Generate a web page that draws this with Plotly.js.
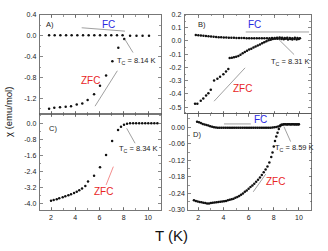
<!DOCTYPE html>
<html><head><meta charset="utf-8">
<script src="https://cdn.plot.ly/plotly-3.0.1.min.js"></script>
<style>html,body{margin:0;padding:0;background:#fff}#c{width:328px;height:251px}</style>
</head><body><div id="c"></div>
<script>
// ---- Panel A ----
const A_fc_T = [1.84,2.30,2.77,3.24,3.70,4.17,4.64,5.10,5.57,6.04,6.50,6.97,7.44,7.90,8.52,9.05,9.55,10.08];
const A_fc   = [0.01,0.01,0.01,0.01,0.01,0.01,0.01,0.01,0.01,0.01,0.01,0.01,0.01,0.01,0.00,0.00,0.00,0.00];
const A_zfc_T = [1.84,2.27,2.74,3.21,3.65,4.12,4.58,5.02,5.55,6.04,6.54,7.06,7.55,8.04];
const A_zfc   = [-1.40,-1.38,-1.37,-1.36,-1.35,-1.32,-1.30,-1.23,-1.12,-0.96,-0.76,-0.49,-0.23,-0.06];
// ---- Panel B ----
const B_fc_T = [1.8,2.0,2.2,2.4,2.6,2.8,3.0,3.2,3.4,3.6,3.8,4.0,4.2,4.4,4.6,4.8,5.0,5.2,5.4,5.6,5.8,6.0,6.2,6.4,6.6,6.8,7.0,7.2,7.4,7.6,7.8,8.0,8.2,8.4,8.6,8.8,9.0,9.2,9.4,9.6,9.8,10.0];
const B_fc   = [0.045,0.043,0.041,0.039,0.037,0.035,0.033,0.031,0.030,0.029,0.028,0.027,0.026,0.025,0.024,0.024,0.023,0.023,0.022,0.022,0.021,0.021,0.021,0.020,0.020,0.020,0.020,0.020,0.020,0.021,0.022,0.023,0.024,0.026,0.024,0.022,0.025,0.023,0.021,0.024,0.022,0.020];
const B_zfc_T = [1.74,1.92,2.19,2.39,2.61,2.79,2.98,3.24,3.50,3.71,3.97,4.18,4.36,
  4.47,4.64,4.81,4.98,5.15,5.32,5.49,5.66,5.83,6.00,6.17,6.34,6.51,6.68,6.85,7.02,7.19,7.36,7.53,7.70,7.87,8.04,8.21,8.38,8.55,8.72,8.89,9.06,9.23,9.40,9.57,9.74,9.91];
const B_zfc   = [-0.474,-0.474,-0.452,-0.434,-0.412,-0.395,-0.369,-0.299,-0.286,-0.271,-0.251,-0.231,-0.211,
  -0.128,-0.126,-0.123,-0.119,-0.113,-0.104,-0.093,-0.083,-0.073,-0.065,-0.058,-0.050,-0.042,-0.034,-0.026,-0.018,-0.010,-0.002,0.005,0.010,0.014,0.016,0.017,0.016,0.015,0.013,0.016,0.012,0.015,0.011,0.014,0.012,0.014];
// ---- Panel C ----
const C_T = [2.00,2.22,2.47,2.68,2.96,3.18,3.43,3.65,3.90,4.12,4.33,4.56,4.83,5.05,5.55,6.04,6.54,7.04,7.53,7.77,8.02,8.27,8.52,8.77,9.02,9.27,9.52,9.77,10.02,10.27,10.52,10.77];
const C_zfc = [-3.84,-3.80,-3.77,-3.72,-3.67,-3.62,-3.57,-3.52,-3.46,-3.39,-3.32,-3.24,-3.11,-2.89,-2.60,-2.18,-1.57,-0.88,-0.33,-0.17,-0.07,-0.02,0,0,0,0,0,0,0,0,0,0];
// ---- Panel D ----
const D_zfc_T = [1.65,1.80,1.95,2.10,2.25,2.40,2.55,2.70,2.85,3.00,3.15,3.30,3.45,3.60,3.75,3.90,4.05,4.20,4.35,4.50,4.65,4.80,4.95,5.10,5.25,5.40,5.55,5.70,5.85,6.00,6.15,6.30,6.45,6.60,6.75,6.90,7.05,7.20,7.35,7.50,7.65,7.80,7.90,8.00,8.10,8.20,8.30,8.40,8.50,8.60,8.75,8.90,9.05,9.20,9.35,9.50,9.65,9.80,9.95];
const D_zfc   = [-0.265,-0.267,-0.269,-0.271,-0.272,-0.274,-0.275,-0.276,-0.276,-0.275,-0.274,-0.273,-0.272,-0.271,-0.270,-0.269,-0.268,-0.267,-0.265,-0.263,-0.261,-0.259,-0.256,-0.253,-0.249,-0.245,-0.240,-0.234,-0.229,-0.223,-0.217,-0.211,-0.205,-0.198,-0.190,-0.182,-0.173,-0.163,-0.153,-0.142,-0.128,-0.108,-0.092,-0.070,-0.050,-0.034,-0.020,-0.006,0.004,0.009,0.010,0.011,0.010,0.011,0.010,0.011,0.010,0.010,0.010];
const D_fc_T = [1.90,2.05,2.20,2.35,2.50,2.65,2.80,2.95,3.10,3.25,3.40,3.55,3.70,3.85,4.00,4.15,4.30,4.45,4.60,4.75,4.90,5.05,5.20,5.35,5.50,5.65,5.80,5.95,6.10,6.25,6.40,6.55,6.70,6.85,7.00,7.15,7.30,7.45,7.60,7.75,7.90,8.05,8.20,8.35,8.50,8.65,8.80,8.95,9.10,9.25,9.40,9.55,9.70,9.85,10.00];
const D_fc   = [0.020,0.018,0.015,0.012,0.010,0.008,0.006,0.004,0.002,0.000,-0.001,-0.002,-0.002,-0.002,-0.002,-0.002,-0.002,-0.002,-0.002,-0.002,-0.002,-0.002,-0.002,-0.002,-0.002,-0.002,-0.002,-0.002,-0.002,-0.002,-0.002,-0.002,-0.002,-0.002,-0.002,-0.002,-0.002,-0.002,-0.002,-0.002,-0.001,0.000,0.001,0.003,0.006,0.009,0.011,0.011,0.011,0.011,0.011,0.011,0.011,0.011,0.011];
// ---- tick labels ----
const A_yt = [0.4,0.0,-0.4,-0.8,-1.2];       const A_ytl = ["0.4","0.0","-0.4","-0.8","-1.2"];
const B_yt = [0.2,0.1,0.0,-0.1,-0.2,-0.3,-0.4,-0.5]; const B_ytl = ["0.2","0.1","0.0","-0.1","-0.2","-0.3","-0.4","-0.5"];
const C_yt = [0.0,-0.8,-1.6,-2.4,-3.2,-4.0]; const C_ytl = ["0.0","-0.8","-1.6","-2.4","-3.2","-4.0"];
const D_yt = [0.00,-0.06,-0.12,-0.18,-0.24,-0.30]; const D_ytl = ["0.00","-0.06","-0.12","-0.18","-0.24","-0.30"];
const X_t = [2,4,6,8,10]; const X_tl = ["2","4","6","8","10"];

const W=328,H=251;
const px = v=>v/W, py = v=>1-v/H;
const mk = {color:'#111', size:2.5, symbol:'circle'};
function sc(x,y,xa,ya){return {x:x,y:y,xaxis:xa,yaxis:ya,mode:'markers',marker:mk,type:'scatter',hoverinfo:'skip',showlegend:false};}
const data = [
  sc(A_fc_T,A_fc,'x','y'), sc(A_zfc_T,A_zfc,'x','y'),
  sc(B_fc_T,B_fc,'x2','y2'), sc(B_zfc_T,B_zfc,'x2','y2'),
  sc(C_T,C_zfc,'x3','y3'),
  sc(D_fc_T,D_fc,'x4','y4'), sc(D_zfc_T,D_zfc,'x4','y4')
];
const tf = {family:'Liberation Sans, Arial, sans-serif', size:7, color:'#222'};
const mn = (o)=>Object.assign({ticks:'inside',ticklen:1.8,tickwidth:0.6,tickcolor:'#555'},o);
function ax(o){return Object.assign({showline:true,mirror:'ticks',linecolor:'#555',linewidth:0.8,ticks:'inside',ticklen:3,tickwidth:0.7,tickcolor:'#555',
  showgrid:false,zeroline:false,tickfont:tf,fixedrange:true,ticklabelstandoff:1},o);}
const layout = {
  width:W,height:H,margin:{l:0,r:0,t:0,b:0},paper_bgcolor:'#fff',plot_bgcolor:'#fff',
  font:{family:'Liberation Sans, Arial, sans-serif',color:'#222'},
  xaxis: ax({domain:[px(39.5),px(161)],range:[1.05,11.07],anchor:'y',tickvals:X_t,ticktext:X_tl,showticklabels:false,minor:mn({dtick:1})}),
  yaxis: ax({domain:[py(114),py(15)],range:[-1.5,0.4],anchor:'x',tickvals:A_yt,ticktext:A_ytl,minor:mn({tickvals:[0.2,-0.2,-0.6,-1.0,-1.4]})}),
  xaxis2: ax({domain:[px(184.5),px(311)],range:[0.91,10.87],anchor:'y2',tickvals:X_t,ticktext:X_tl,showticklabels:false,minor:mn({dtick:1})}),
  yaxis2: ax({domain:[py(113.5),py(14.5)],range:[-0.548,0.2],anchor:'x2',tickvals:B_yt,ticktext:B_ytl,minor:mn({tickvals:[0.15,0.05,-0.05,-0.15,-0.25,-0.35,-0.45]})}),
  xaxis3: ax({domain:[px(39.5),px(161)],range:[1.05,11.07],anchor:'y3',tickvals:X_t,ticktext:X_tl,minor:mn({dtick:1})}),
  yaxis3: ax({domain:[py(210),py(114)],range:[-4.3,0.46],anchor:'x3',tickvals:C_yt,ticktext:C_ytl,minor:mn({tickvals:[0.4,-0.4,-1.2,-2.0,-2.8,-3.6]})}),
  xaxis4: ax({domain:[px(188),px(311.5)],range:[1.18,11.0],anchor:'y4',tickvals:X_t,ticktext:X_tl,minor:mn({dtick:1})}),
  yaxis4: ax({domain:[py(210),py(114)],range:[-0.30,0.048],anchor:'x4',tickvals:D_yt,ticktext:D_ytl,minor:mn({tickvals:[0.03,-0.03,-0.09,-0.15,-0.21,-0.27]})}),
  annotations: [], shapes: []
};
const lbl = {family:'Liberation Sans, Arial, sans-serif', size:7.5, color:'#222'};
const big = (c)=>({family:'Liberation Sans, Arial, sans-serif', size:10, color:c});
function t(xr,yr,x,y,txt,f){return {xref:xr,yref:yr,x:x,y:y,text:txt,showarrow:false,font:f,xanchor:'center',yanchor:'middle'};}
function ln(xr,yr,x0,y0,x1,y1,col){return {type:'line',xref:xr,yref:yr,x0:x0,y0:y0,x1:x1,y1:y1,line:{color:col||'#888',width:0.8}};}
const tc = (v)=>'T<sub>C</sub> = '+v+' K';
layout.annotations.push(
  t('x','y',1.92,0.21,'A)',lbl), t('x','y',6.78,0.22,'FC',big('#2a2adf')),
  t('x','y',9.05,-0.49,tc('8.14'),lbl),
  t('x','y',5.22,-0.85,'ZFC',big('#e8261f')),
  t('x2','y2',2.27,0.123,'B)',lbl), t('x2','y2',6.39,0.123,'FC',big('#2a2adf')),
  t('x2','y2',9.26,-0.161,tc('8.31'),lbl),
  t('x2','y2',5.46,-0.361,'ZFC',big('#e8261f')),
  t('x3','y3',2.19,-0.25,'C)',lbl),
  t('x3','y3',9.22,-1.29,tc('8.34'),lbl),
  t('x3','y3',6.31,-3.39,'ZFC',big('#e8261f')),
  t('x4','y4',1.92,-0.028,'D)',lbl), t('x4','y4',6.96,0.029,'FC',big('#2a2adf')),
  t('x4','y4',9.65,-0.076,tc('8.59'),lbl),
  t('x4','y4',8.15,-0.197,'ZFC',big('#e8261f')),
  {xref:'paper',yref:'paper',x:px(171),y:py(235),text:'T (K)',showarrow:false,font:{family:'Liberation Sans, Arial, sans-serif',size:15,color:'#111'},xanchor:'center',yanchor:'middle'},
  {xref:'paper',yref:'paper',x:px(8),y:py(112),text:'χ (emu/mol)',textangle:-90,showarrow:false,font:{family:'Liberation Sans, Arial, sans-serif',size:9.5,color:'#111'},xanchor:'center',yanchor:'middle'}
);
layout.shapes.push(
  ln('x','y',4.53,0.155,8.1,0.09), ln('x','y',8.1,-0.07,8.76,-0.32), ln('x','y',7.47,-0.67,5.63,-1.35),
  ln('x2','y2',5.73,0.068,10.72,0.068), ln('x2','y2',8.35,0.01,9.54,-0.103), ln('x2','y2',5.68,-0.203,3.24,-0.455),
  ln('x3','y3',8.24,-0.25,8.93,-0.99), ln('x3','y3',7.14,-2.15,6.54,-3.06,'#f07070'),
  ln('x4','y4',4.04,0.012,6.17,0.012), ln('x4','y4',8.81,0.002,9.34,-0.052), ln('x4','y4',7.36,-0.17,6.37,-0.234)
);
Plotly.newPlot('c',data,layout,{staticPlot:true,displayModeBar:false});
</script></body></html>
